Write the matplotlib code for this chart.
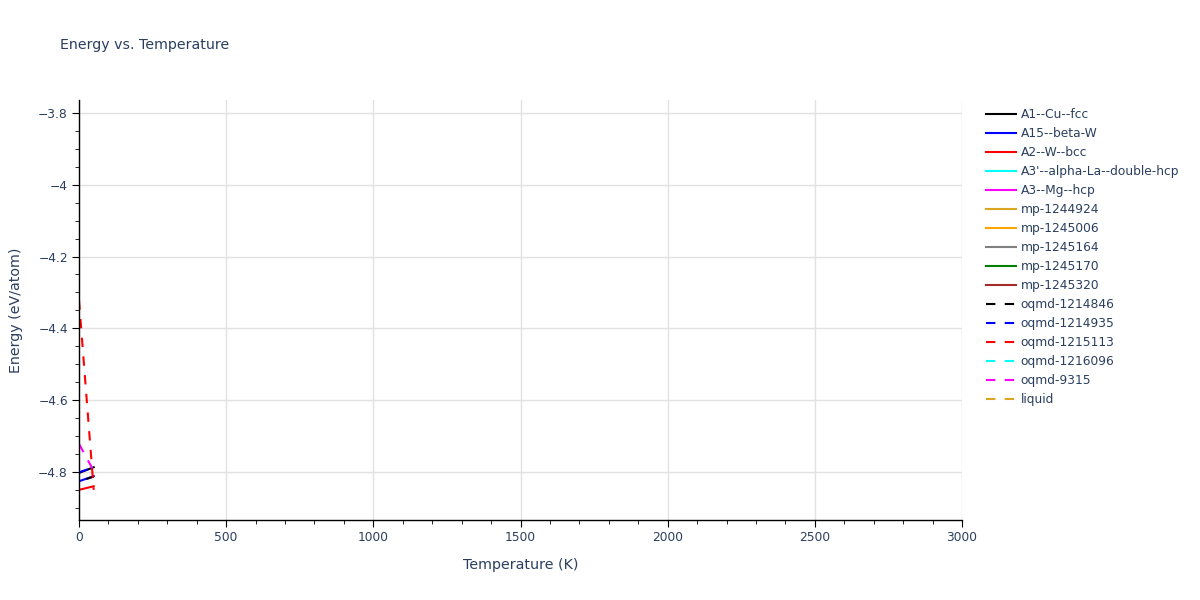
#!/usr/bin/env python3

# Energy vs. temperature chart, plotly-like look
import matplotlib.pyplot as plt
from matplotlib.ticker import MultipleLocator


##########################################################################
# DATA
##########################################################################

names = ["A1--Cu--fcc", "A15--beta-W", "A2--W--bcc", "A3'--alpha-La--double-hcp",
         "A3--Mg--hcp", "mp-1244924", "mp-1245006", "mp-1245164", "mp-1245170",
         "mp-1245320", "oqmd-1214846", "oqmd-1214935", "oqmd-1215113",
         "oqmd-1216096", "oqmd-9315", "liquid"]
colors = ["black", "blue", "red", "cyan", "magenta", "goldenrod", "orange", "gray",
          "green", "brown", "black", "blue", "red", "cyan", "magenta", "goldenrod"]
dashed = [False] * 10 + [True] * 6

# temperature (K) and energy (eV/atom) per phase; empty where nothing is drawn
temps = {
    "A1--Cu--fcc": [0, 50],
    "A15--beta-W": [0, 50],
    "A2--W--bcc": [0, 50],
    "oqmd-1214846": [25, 50],
    "oqmd-1214935": [0, 40],
    "oqmd-1215113": [0, 50],
    "oqmd-9315": [0, 45],
}
energies = {
    "A1--Cu--fcc": [-4.803, -4.787],
    "A15--beta-W": [-4.826, -4.812],
    "A2--W--bcc": [-4.850, -4.840],
    "oqmd-1214846": [-4.820, -4.813],
    "oqmd-1214935": [-4.801, -4.790],
    "oqmd-1215113": [-4.322, -4.850],
    "oqmd-9315": [-4.722, -4.790],
}


##########################################################################
# GRAPHING
##########################################################################

TEXT = "#2a3f5f"
plt.rcParams["font.family"] = ["DejaVu Sans"]

fig = plt.figure(figsize=(12, 6), dpi=100)
ax = fig.add_axes([79 / 1200, 1 - 520 / 600, (962 - 79) / 1200, 420 / 600])

for name, col, dsh in zip(names, colors, dashed):
    x = temps.get(name, [])
    y = energies.get(name, [])
    ls = (0, (4.5, 4.5)) if dsh else "-"
    ax.plot(x, y, color=col, lw=1.5, linestyle=ls, label=name)

ax.set_xlim(0, 3000)
ax.set_ylim(-4.934, -3.764)
ax.xaxis.set_major_locator(MultipleLocator(500))
ax.xaxis.set_minor_locator(MultipleLocator(100))
ax.yaxis.set_major_locator(MultipleLocator(0.2))
ax.yaxis.set_minor_locator(MultipleLocator(0.05))
ax.yaxis.set_major_formatter(lambda v, p: ("%g" % round(v, 2)).replace("-", "\u2212"))

ax.grid(True, which="major", color="#e2e2e2", lw=1)
ax.set_axisbelow(True)
for s in ["top", "right"]:
    ax.spines[s].set_visible(False)
for s in ["left", "bottom"]:
    ax.spines[s].set_color("black")
    ax.spines[s].set_linewidth(1)

ax.tick_params(which="major", length=5, color="black", labelsize=8.8, labelcolor=TEXT, pad=3)
ax.tick_params(which="minor", length=3, color="black")

ax.set_xlabel("Temperature (K)", fontsize=10.3, color=TEXT, labelpad=10)
ax.set_ylabel("Energy (eV/atom)", fontsize=10.3, color=TEXT, labelpad=11)
fig.text(60 / 1200, 1 - 45 / 600, "Energy vs. Temperature", fontsize=10.2,
         color=TEXT, va="center", ha="left")

leg = ax.legend(loc="upper left", bbox_to_anchor=(975 / 1200, 1 - 97 / 600),
                bbox_transform=fig.transFigure, frameon=False, fontsize=8.8,
                labelspacing=0.49, handlelength=2.45, handletextpad=0.4)
for t in leg.get_texts():
    t.set_color(TEXT)

fig.savefig("out.png", dpi=100)
